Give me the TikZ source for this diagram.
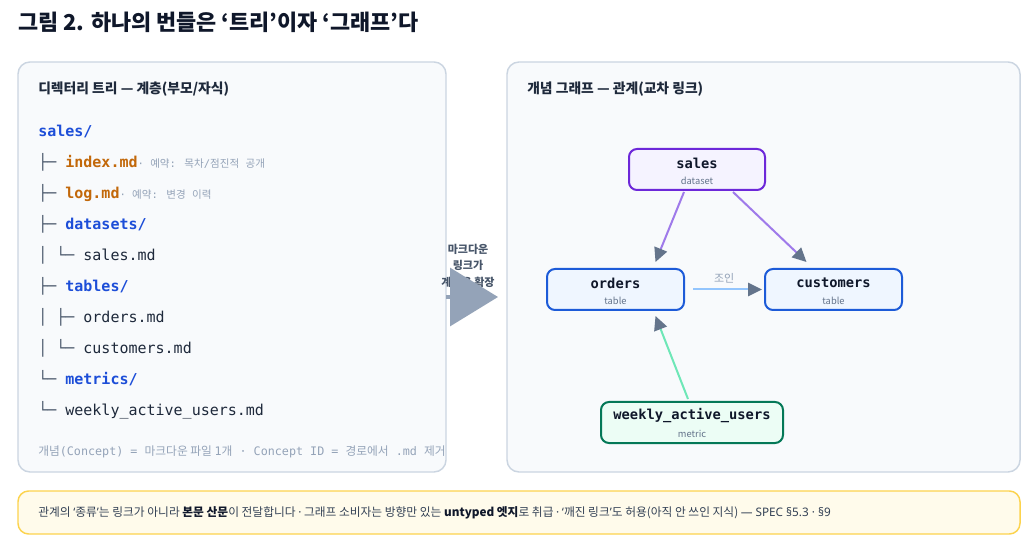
\documentclass[tikz,border=0pt]{standalone}
\usepackage{fontspec}
\setmainfont{Noto Sans CJK KR}
\newfontfamily\monof{DejaVu Sans Mono}
\newfontfamily\krf{Noto Sans CJK KR}
\newfontfamily\latf{Noto Sans}
\usetikzlibrary{arrows.meta,calc}
\definecolor{ink}{HTML}{1E293B}
\definecolor{inkdark}{HTML}{0F172A}
\definecolor{body}{HTML}{334155}
\definecolor{treeln}{HTML}{475569}
\definecolor{muted}{HTML}{94A3B8}
\definecolor{sub}{HTML}{64748B}
\definecolor{dirblue}{HTML}{1D4ED8}
\definecolor{fileorange}{HTML}{C2680A}
\definecolor{panelfill}{HTML}{F8FAFC}
\definecolor{panelline}{HTML}{CBD5E1}
\definecolor{notefill}{HTML}{FFFBEB}
\definecolor{noteline}{HTML}{FCD34D}
\definecolor{purpleline}{HTML}{6D28D9}
\definecolor{purplefill}{HTML}{F5F3FF}
\definecolor{purpleedge}{HTML}{9F7AEA}
\definecolor{blueline}{HTML}{1D5BD8}
\definecolor{bluefill}{HTML}{EFF6FF}
\definecolor{blueedge}{HTML}{93C5FD}
\definecolor{greenline}{HTML}{047857}
\definecolor{greenfill}{HTML}{ECFDF5}
\definecolor{greenedge}{HTML}{6EE7B7}
\definecolor{tipgray}{HTML}{64748B}
\definecolor{bigarrow}{HTML}{94A3B8}
\tikzset{
  panel/.style={draw=panelline, fill=panelfill, line width=1.1pt, rounded corners=9pt},
  hdr/.style={anchor=west, inner sep=0pt, text=ink, font=\bfseries\fontsize{10.35}{12}\selectfont},
  treeline/.style={anchor=base west, inner sep=0pt, font=\monof\fontsize{11.25}{13}\selectfont},
  gnode/.style={draw, rounded corners=6pt, line width=1.5pt, minimum height=30.75pt, inner sep=0pt},
  gname/.style={inner sep=0pt, font=\monof\bfseries\fontsize{10.3}{12}\selectfont, text=inkdark},
  gtype/.style={inner sep=0pt, font=\fontsize{7}{9}\selectfont, text=sub},
  edge/.style={line width=1.5pt, -{Triangle[length=10.5pt, width=10pt, color=tipgray]}},
}
\newcommand{\dirt}[1]{{\bfseries\color{dirblue}#1}}
\newcommand{\filet}[1]{{\bfseries\color{fileorange}#1}}
\newcommand{\brn}[1]{{\color{treeln}#1}}
\newcommand{\cmtsz}{\fontsize{7.9}{10}\selectfont\color{muted}}
\newcommand{\ldot}{{\latf ·}}
\begin{document}
\begin{tikzpicture}[x=0.75pt,y=-0.75pt]
\useasboundingbox (0,0) rectangle (1034,548);
\fill[white] (0,0) rectangle (1034,548);

% title
\node[anchor=west, inner sep=0pt, text=inkdark, font=\bfseries\fontsize{16.4}{19}\selectfont] (title) at (18,22) {그림 2. 하나의 번들은 ‘트리’이자 ‘그래프’다};

% panels
\draw[panel] (18,62) rectangle (446,472);
\draw[panel] (507,62) rectangle (1020,472);
\node[hdr] (lhdr) at (38,89) {디렉터리 트리 — 계층(부모/자식)};
\node[hdr] (rhdr) at (527,89) {개념 그래프 — 관계(교차 링크)};

% tree
\node[treeline] (t1) at (38,137) {\dirt{sales/}};
\node[treeline] (t2) at (38,168) {\brn{├─ }\filet{index.md}{\cmtsz{\monof· }{\krf 예약}{\monof: }{\krf 목차}{\monof/}{\krf 점진적}{\monof\ }{\krf 공개}}};
\node[treeline] (t3) at (38,199) {\brn{├─ }\filet{log.md}{\cmtsz{\monof· }{\krf 예약}{\monof: }{\krf 변경}{\monof\ }{\krf 이력}}};
\node[treeline] (t4) at (38,230) {\brn{├─ }\dirt{datasets/}};
\node[treeline] (t5) at (38,261) {\brn{│ └─ }{\color{ink}sales.md}};
\node[treeline] (t6) at (38,292) {\brn{├─ }\dirt{tables/}};
\node[treeline] (t7) at (38,323) {\brn{│ ├─ }{\color{ink}orders.md}};
\node[treeline] (t8) at (38,354) {\brn{│ └─ }{\color{ink}customers.md}};
\node[treeline] (t9) at (38,385) {\brn{└─ }\dirt{metrics/}};
\node[treeline] (t10) at (38,416) {\brn{└─ }{\color{ink}weekly\_active\_users.md}};

\node[anchor=base west, inner sep=0pt, text=muted, font=\fontsize{8.8}{10}\selectfont] (foot) at (38,455)
  {{\krf 개념}{\monof (Concept) = }{\krf 마크다운 파일 }{\monof 1}{\krf 개}{\monof\ · Concept ID = }{\krf 경로에서}{\monof\ .md }{\krf 제거}};

% middle arrow
\node[align=center, inner sep=0pt, text=treeln, font=\bfseries\fontsize{8.25}{12.4}\selectfont] (mtext) at (468,265.5) {마크다운\\링크가\\계층을 확장};
\coordinate (ma) at (446,297);
\coordinate (mb) at (498,297);
\draw[bigarrow, line width=2.5pt, -{Triangle[length=36pt, width=43.5pt]}] (ma) -- (mb);

% graph nodes
\node[gnode, draw=purpleline, fill=purplefill, minimum width=102pt] (sales) at (697,169.5) {};
\node[gnode, draw=blueline, fill=bluefill, minimum width=102.75pt] (orders) at (615.5,289.5) {};
\node[gnode, draw=blueline, fill=bluefill, minimum width=102.75pt] (customers) at (833.5,289.5) {};
\node[gnode, draw=greenline, fill=greenfill, minimum width=136.5pt] (wau) at (692,422.5) {};
\node[gname] (salesN) at ($(sales.north)+(0,15)$) {sales};
\node[gtype] (salesT) at ($(sales.north)+(0,32.5)$) {dataset};
\node[gname] (ordersN) at ($(orders.north)+(0,15)$) {orders};
\node[gtype] (ordersT) at ($(orders.north)+(0,32.5)$) {table};
\node[gname] (customersN) at ($(customers.north)+(0,15)$) {customers};
\node[gtype] (customersT) at ($(customers.north)+(0,32.5)$) {table};
\node[gname] (wauN) at ($(wau.north)+(0,15)$) {weekly\_active\_users};
\node[gtype] (wauT) at ($(wau.north)+(0,32.5)$) {metric};

% edges
\draw[edge, purpleedge] ($(sales.south)+(-13,1)$) -- ($(orders.north)+(40,-6)$);
\draw[edge, purpleedge] ($(sales.south)+(36,1)$) -- ($(customers.north)+(-27,-6)$);
\draw[edge, blueedge] ($(orders.east)+(8,0)$) -- node[above=1pt, xshift=-2.5pt, text=muted, font=\fontsize{8.25}{10}\selectfont] (joinlbl) {조인} ($(customers.west)+(-2,0)$);
\draw[edge, greenedge] ($(wau.north)+(-4,-2)$) -- ($(orders.south)+(40,5)$);

% note
\draw[draw=noteline, fill=notefill, line width=1.1pt, rounded corners=8pt] (18,491) rectangle (1020,534);
\node[anchor=west, inner sep=0pt, text=body, font=\fontsize{8.8}{11}\selectfont] (note) at (38,513)
  {관계의 {\latf ‘}종류{\latf ’}는 링크가 아니라 {\bfseries\color{inkdark}본문 산문}이 전달합니다 \ldot{} 그래프 소비자는 방향만 있는 {\bfseries\color{inkdark}untyped 엣지}로 취급 \ldot{} {\latf ‘}깨진 링크{\latf ’}도 허용(아직 안 쓰인 지식) {\latf — SPEC §5.3 · §9}};
\end{tikzpicture}
\end{document}
